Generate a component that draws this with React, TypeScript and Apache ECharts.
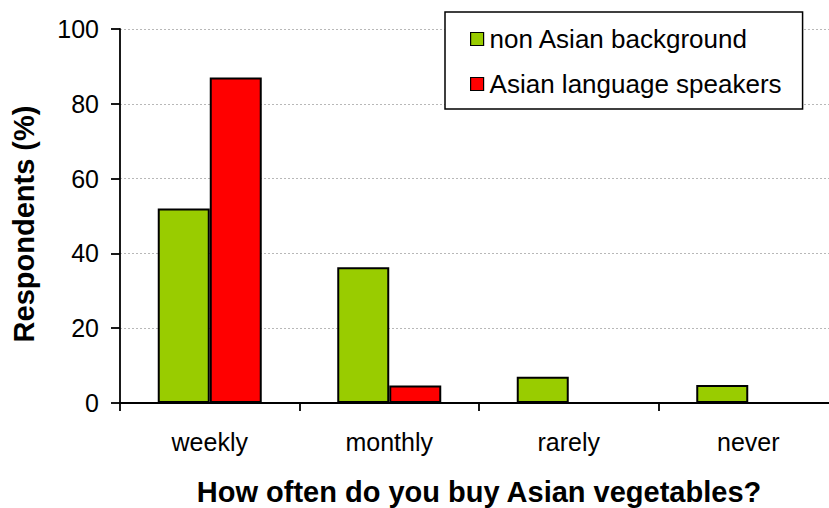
import React, { useEffect, useRef } from "react";
import * as echarts from "echarts";

const categories = ["weekly", "monthly", "rarely", "never"];
const nonAsian = [52, 36.3, 7, 4.8];
const asianSpeakers = [87, 4.7, 0, 0];
const seriesNames = ["non Asian background", "Asian language speakers"];
const yTicks = { min: 0, max: 100, interval: 20 };

export default function App() {
  const ref = useRef<HTMLDivElement>(null);
  useEffect(() => {
    document.body.style.margin = "0";
    const chart = echarts.init(ref.current!, null, { renderer: "svg" });
    const font = "Arial, 'Liberation Sans', sans-serif";
    const toItems = (arr: number[]) =>
      arr.map((v) => (v === 0 ? { value: v, itemStyle: { borderWidth: 0 } } : v));
    chart.setOption({
      animation: false,
      backgroundColor: "#ffffff",
      textStyle: { fontFamily: font },
      legend: {
        orient: "vertical",
        left: 445,
        top: 12,
        padding: [14, 21, 12, 25],
        itemGap: 19,
        itemWidth: 13,
        itemHeight: 13,
        icon: "rect",
        borderColor: "#000",
        borderWidth: 1.5,
        backgroundColor: "#fff",
        textStyle: { fontSize: 26, color: "#000", fontFamily: font, lineHeight: 25, padding: [0, 0, 0, 1] },
        itemStyle: { borderColor: "#000", borderWidth: 1.2 },
        data: seriesNames,
      },
      grid: { left: 120, top: 29, width: 718, height: 374, outerBoundsMode: "none", containLabel: false },
      xAxis: {
        type: "category",
        data: categories,
        name: "How often do you buy Asian vegetables?",
        nameLocation: "middle",
        nameGap: 74,
        nameTextStyle: { fontSize: 29, fontWeight: "bold", color: "#000", fontFamily: font },
        axisLine: { lineStyle: { color: "#000", width: 1.8 } },
        axisTick: { show: true, length: 8, lineStyle: { color: "#000", width: 1.8 } },
        axisLabel: { fontSize: 25, color: "#000", margin: 26, fontFamily: font },
      },
      yAxis: {
        type: "value",
        min: yTicks.min,
        max: yTicks.max,
        interval: yTicks.interval,
        name: "Respondents (%)",
        nameLocation: "middle",
        nameGap: 82,
        nameRotate: 90,
        nameTextStyle: { fontSize: 29, fontWeight: "bold", color: "#000", fontFamily: font, padding: [0, 16, 0, 0] },
        axisLine: { show: true, lineStyle: { color: "#000", width: 1.8 } },
        axisTick: { show: true, length: 9, lineStyle: { color: "#000", width: 1.8 } },
        axisLabel: { fontSize: 25, color: "#000", margin: 21, fontFamily: font },
        splitLine: { show: true, lineStyle: { color: "#b8b8b8", type: [2, 2], width: 1 } },
      },
      series: [
        {
          name: seriesNames[0],
          type: "bar",
          data: toItems(nonAsian),
          barWidth: 52,
          barGap: "0%",
          itemStyle: { color: "#99CC00", borderColor: "#000", borderWidth: 2 },
        },
        {
          name: seriesNames[1],
          type: "bar",
          data: toItems(asianSpeakers),
          barWidth: 52,
          barGap: "0%",
          itemStyle: { color: "#FF0000", borderColor: "#000", borderWidth: 2 },
        },
      ],
    });
    return () => chart.dispose();
  }, []);
  return <div ref={ref} style={{ width: 829, height: 508 }} />;
}
